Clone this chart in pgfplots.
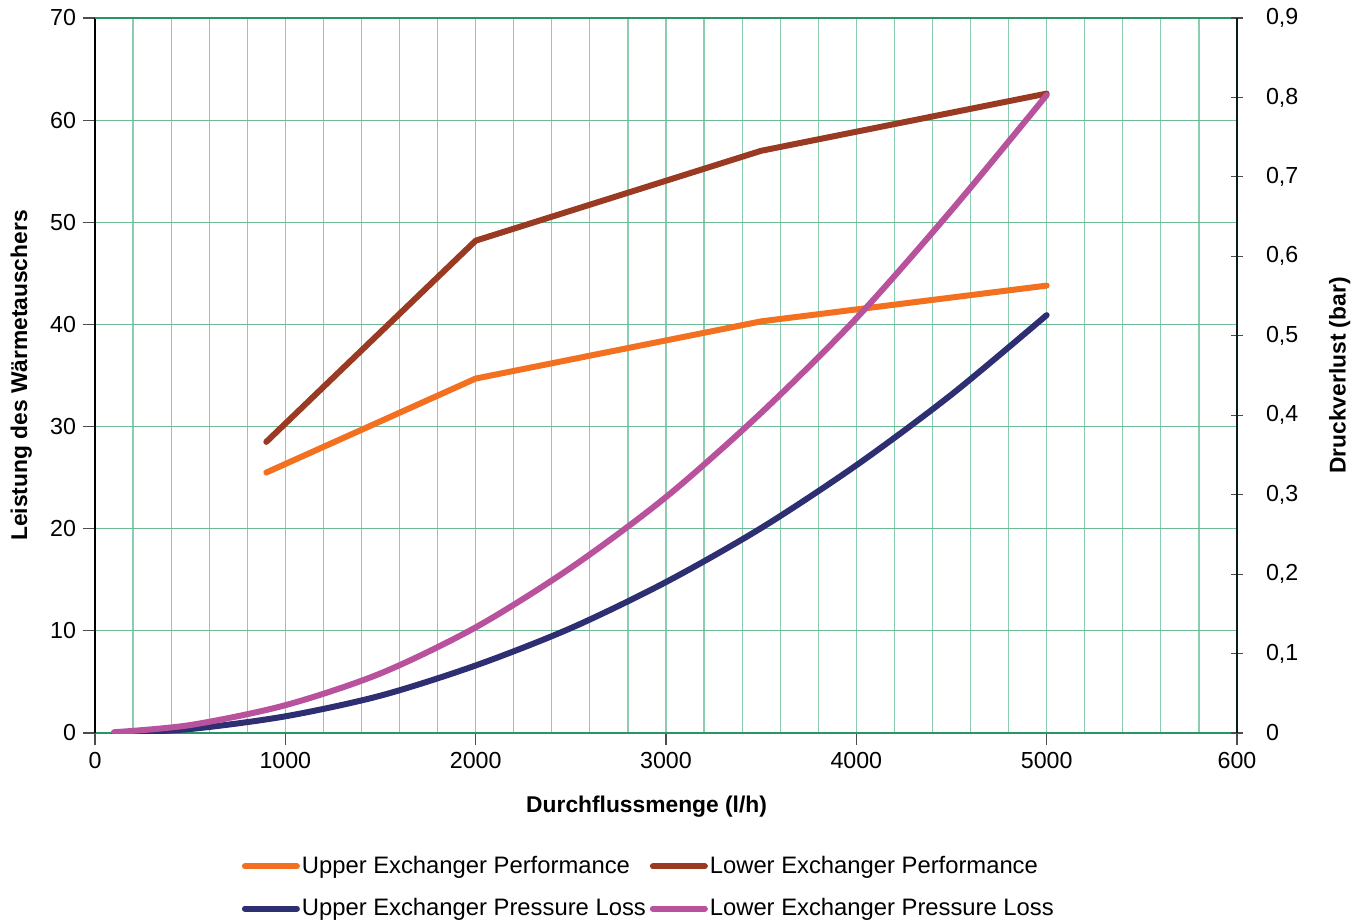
\documentclass[border=0pt]{standalone}
\usepackage{fontspec}
\setmainfont{Liberation Sans}
\usepackage{pgfplots}
\pgfplotsset{compat=1.18}

\definecolor{upperPerf}{RGB}{243,112,33}
\definecolor{lowerPerf}{RGB}{155,58,34}
\definecolor{upperLoss}{RGB}{46,46,115}
\definecolor{lowerLoss}{RGB}{185,82,156}
\definecolor{gridGreen}{RGB}{140,205,175}
\definecolor{gridGreenDark}{RGB}{110,185,150}
\definecolor{frameGreen}{RGB}{40,150,100}

\pgfplotsset{
  common/.style={
    at={(0,0)}, anchor=south west,
    scale only axis, width=571pt, height=357.5pt,
    xmin=0, xmax=6000,
    /pgf/number format/assume math mode=true,
    tick label style={font=\fontsize{11.6}{13}\selectfont},
    label style={font=\bfseries\fontsize{11.4}{13}\selectfont},
    tick style={black!70, line width=0.6pt},
    major tick length=6pt,
  },
  curve/.style={line width=3pt, line cap=round, line join=round},
}

\begin{document}
\begin{tikzpicture}
\path[use as bounding box] (-47.5pt,-94.5pt) rectangle (636pt,366.5pt);

% Heat exchanger output (left axis, kW)
\begin{axis}[
  common,
  ymin=0, ymax=70,
  axis x line*=bottom, axis y line*=left,
  x axis line style={frameGreen, line width=1pt, -},
  y axis line style={black, line width=1.2pt, -},
  tick align=outside,
  xtick={0,1000,...,6000},
  xticklabels={0,1000,2000,3000,4000,5000,600},
  minor xtick={200,400,600,800,1200,1400,1600,1800,2200,2400,2600,2800,3200,3400,3600,3800,4200,4400,4600,4800,5200,5400,5600,5800},
  minor tick length=0pt,
  ytick={0,10,...,70},
  xmajorgrids, xminorgrids, ymajorgrids,
  major x grid style={gridGreen, line width=0.6pt},
  minor x grid style={gridGreen, line width=0.6pt},
  major y grid style={gridGreenDark, line width=0.6pt},
  xlabel={Durchflussmenge (l/h)},
  ylabel={Leistung des Wärmetauschers},
  xlabel style={at={(axis description cs:0.483,-0.1035)}, anchor=center},
  ylabel style={at={(axis description cs:-0.0645,0.5)}, anchor=center},
]
\addplot[curve, upperPerf] coordinates {(900,25.5) (2000,34.7) (3500,40.3) (5000,43.8)};
\addplot[curve, lowerPerf] coordinates {(900,28.5) (2000,48.2) (3500,57.0) (5000,62.6)};
\draw[frameGreen, line width=1.5pt] (rel axis cs:0,1) -- (rel axis cs:1,1);
\end{axis}

% Pressure loss (right axis, bar)
\begin{axis}[
  common,
  ymin=0, ymax=0.9,
  axis x line=none, axis y line*=right,
  y axis line style={black!80!frameGreen, line width=1.2pt, -},
  tick align=center,
  ytick={0,0.1,...,0.9},
  yticklabel style={xshift=8pt, /pgf/number format/.cd, use comma, fixed, precision=1},
  ylabel={Druckverlust (bar)},
  ylabel style={at={(axis description cs:1.090,0.5)}, anchor=center, rotate=0},
  legend columns=2,
  legend style={at={(axis description cs:0.485,-0.216)}, anchor=center, draw=none, fill=none,
    font=\fontsize{11.9}{13}\selectfont, row sep=7pt,
    /tikz/every even column/.append style={column sep=1pt},
    nodes={inner xsep=1pt},
    cells={anchor=west}},
  legend image code/.code={\draw[#1, line width=3pt, line cap=round] (0pt,0pt) -- (26pt,0pt);},
]
\addlegendimage{upperPerf}
\addlegendentry{Upper Exchanger Performance}
\addlegendimage{lowerPerf}
\addlegendentry{Lower Exchanger Performance}
\addplot[curve, upperLoss, smooth] coordinates {
  (100,0) (500,0.005) (1000,0.021) (1500,0.047) (2000,0.085) (2500,0.132)
  (3000,0.190) (3500,0.258) (4000,0.337) (4500,0.426) (5000,0.526)};
\addlegendentry{Upper Exchanger Pressure Loss}
\addplot[curve, lowerLoss, smooth] coordinates {
  (100,0.001) (500,0.010) (1000,0.035) (1500,0.075) (2000,0.133) (2500,0.208)
  (3000,0.297) (3500,0.403) (4000,0.522) (4500,0.658) (5000,0.803)};
\addlegendentry{Lower Exchanger Pressure Loss}
\end{axis}
\end{tikzpicture}
\end{document}
